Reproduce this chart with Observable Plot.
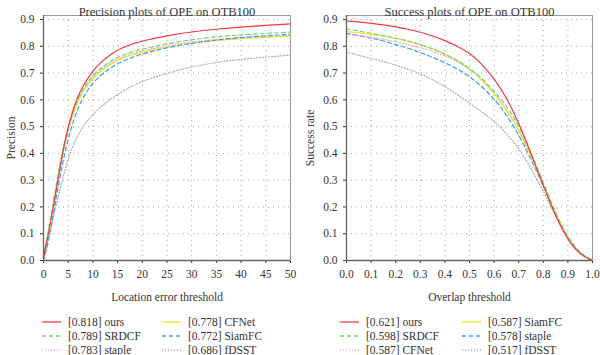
<!DOCTYPE html>
<html><head><meta charset="utf-8">
<script src="https://cdn.jsdelivr.net/npm/d3@7"></script>
<script src="https://cdn.jsdelivr.net/npm/@observablehq/plot@0.6"></script>
<style>
body{margin:0;background:#fff;font-family:"Liberation Serif",serif;}
#wrap{position:relative;width:600px;height:355px;overflow:hidden;}
#left{position:absolute;left:0;top:0;}
#right{position:absolute;left:300px;top:0;}
.leg{position:absolute;font-size:11.5px;color:#333;display:flex;align-items:center;white-space:nowrap;height:14px;}
.leg svg{margin-right:7px;}
</style></head><body>
<div id="wrap"><div id="left"></div><div id="right"></div><div id="legend"></div></div>
<script>
// ---- Precision plot data (location error threshold in px) ----
const errThresholds = [0,1,2,3,4,5,6,7,8,9,10,11,12,13,14,15,16,18,20,25,30,35,40,45,50];
const precOurs   = [0.01,0.10,0.20,0.31,0.415,0.50,0.565,0.615,0.652,0.682,0.707,0.728,0.746,0.761,0.774,0.785,0.795,0.809,0.820,0.840,0.854,0.864,0.872,0.878,0.884];
const precSRDCF  = [0.02,0.11,0.22,0.33,0.425,0.50,0.56,0.605,0.64,0.668,0.69,0.708,0.724,0.737,0.748,0.758,0.767,0.780,0.790,0.810,0.825,0.836,0.843,0.848,0.853];
const precStaple = [0.01,0.10,0.20,0.31,0.41,0.49,0.55,0.597,0.633,0.662,0.685,0.703,0.718,0.731,0.742,0.752,0.761,0.773,0.783,0.803,0.817,0.826,0.832,0.836,0.840];
const precCFNet  = [0.01,0.10,0.21,0.32,0.415,0.49,0.55,0.595,0.63,0.658,0.68,0.698,0.713,0.726,0.737,0.747,0.756,0.769,0.778,0.798,0.812,0.822,0.829,0.834,0.837];
const precSiamFC = [0.00,0.07,0.17,0.28,0.375,0.455,0.52,0.57,0.608,0.638,0.662,0.682,0.698,0.712,0.724,0.735,0.744,0.759,0.772,0.795,0.812,0.824,0.833,0.839,0.845];
const precFDSST  = [0.01,0.08,0.16,0.24,0.315,0.38,0.43,0.47,0.50,0.525,0.545,0.563,0.58,0.595,0.608,0.62,0.632,0.652,0.67,0.70,0.724,0.74,0.752,0.76,0.767];

// ---- Success plot data (overlap threshold) ----
const overlapThresholds = [0,0.05,0.1,0.15,0.2,0.25,0.3,0.35,0.4,0.45,0.5,0.55,0.6,0.65,0.7,0.75,0.8,0.85,0.9,0.95,1.0];
const succOurs   = [0.895,0.891,0.886,0.880,0.873,0.864,0.853,0.839,0.822,0.801,0.775,0.735,0.680,0.610,0.515,0.400,0.280,0.165,0.075,0.020,0.0];
const succSRDCF  = [0.865,0.857,0.849,0.840,0.831,0.820,0.806,0.790,0.771,0.749,0.718,0.682,0.632,0.580,0.505,0.405,0.290,0.178,0.085,0.027,0.0];
const succCFNet  = [0.845,0.840,0.834,0.826,0.817,0.807,0.795,0.781,0.764,0.743,0.714,0.676,0.626,0.566,0.492,0.395,0.285,0.172,0.082,0.025,0.0];
const succSiamFC = [0.855,0.850,0.845,0.838,0.830,0.820,0.807,0.791,0.772,0.749,0.716,0.676,0.625,0.563,0.488,0.390,0.280,0.168,0.077,0.022,0.0];
const succStaple = [0.848,0.840,0.831,0.820,0.807,0.793,0.777,0.759,0.739,0.716,0.688,0.650,0.604,0.545,0.470,0.380,0.278,0.170,0.080,0.025,0.0];
const succFDSST  = [0.778,0.766,0.755,0.743,0.730,0.715,0.698,0.676,0.650,0.620,0.588,0.556,0.520,0.476,0.420,0.345,0.260,0.165,0.080,0.025,0.0];

// ---- Legends (scores) ----
const precLegendNames  = ["ours","SRDCF","staple","CFNet","SiamFC","fDSST"];
const precLegendScores = ["0.818","0.789","0.783","0.778","0.772","0.686"];
const succLegendNames  = ["ours","SRDCF","CFNet","SiamFC","staple","fDSST"];
const succLegendScores = ["0.621","0.598","0.587","0.587","0.578","0.517"];

const yTicks = [0,0.1,0.2,0.3,0.4,0.5,0.6,0.7,0.8,0.9];
const errTicks = [0,5,10,15,20,25,30,35,40,45,50];
const overlapTicks = [0,0.1,0.2,0.3,0.4,0.5,0.6,0.7,0.8,0.9,1.0];

// styles (kept separate from data)
const RED={stroke:"#ec3b42",dash:null}, GREEN={stroke:"#72d872",dash:"4,3"}, PINK={stroke:"#e9a6e3",dash:"1,2"},
      YELLOW={stroke:"#ebe233",dash:null}, BLUE={stroke:"#3a9fe6",dash:"4,3"}, GRAY={stroke:"#a8a8a8",dash:"1,2"};
const precStyle = {ours:RED, SRDCF:GREEN, staple:PINK, CFNet:YELLOW, SiamFC:BLUE, fDSST:GRAY};
const succStyle = {ours:RED, SRDCF:GREEN, CFNet:PINK, SiamFC:YELLOW, staple:BLUE, fDSST:GRAY};

function table(xs, seriesMap){
  const rows=[];
  for(const [name, vals] of Object.entries(seriesMap)) xs.forEach((x,i)=>rows.push({method:name,x,y:vals[i]}));
  return rows;
}

function chart(o){
  const rows = table(o.xs, o.series);
  const order = ["fDSST","staple","CFNet","SiamFC","SRDCF","ours"];
  const lineMarks = order.map(m=>Plot.line(rows.filter(r=>r.method===m),{
    x:"x", y:"y", stroke:o.style[m].stroke, strokeDasharray:o.style[m].dash || undefined,
    strokeWidth:1.2, curve:"basis"}));
  return Plot.plot({
    width:300, height:305,
    marginLeft:o.ml, marginRight:o.mr, marginTop:15, marginBottom:45,
    style:{fontFamily:"'Liberation Serif', serif", fontSize:"11.5px", color:"#333", background:"white"},
    x:{domain:o.xDomain, ticks:o.xTicks, tickFormat:o.xFormat, tickSize:3, label:o.xLabel, labelAnchor:"center", labelArrow:"none", labelOffset:40},
    y:{domain:[0,0.915], ticks:yTicks, tickFormat:".1f", tickSize:3, label:o.yLabel, labelAnchor:"center", labelArrow:"none", labelOffset:o.ylo},
    marks:[
      Plot.gridX(o.xTicks,{stroke:"#999", strokeOpacity:0.9, strokeDasharray:"1,4"}),
      Plot.gridY(yTicks,{stroke:"#999", strokeOpacity:0.9, strokeDasharray:"1,4"}),
      Plot.frame({stroke:"#999"}),
      ...lineMarks,
      Plot.ruleX([o.xDomain[0]],{stroke:"#666", strokeWidth:1.3}),
      Plot.ruleY([0],{stroke:"#666", strokeWidth:1.3}),
      Plot.text([o.title],{frameAnchor:"top", dy:-8, text:d=>d, fontSize:12.5, fill:"#333"})
    ]
  });
}

document.getElementById("left").append(chart({
  xs:errThresholds,
  series:{ours:precOurs,SRDCF:precSRDCF,staple:precStaple,CFNet:precCFNet,SiamFC:precSiamFC,fDSST:precFDSST},
  style:precStyle, xDomain:[0,50], xTicks:errTicks, xFormat:d=>String(d),
  xLabel:"Location error threshold", yLabel:"Precision", title:"Precision plots of OPE on OTB100",
  ml:43, mr:10, ylo:37
}));
document.getElementById("right").append(chart({
  xs:overlapThresholds,
  series:{ours:succOurs,SRDCF:succSRDCF,CFNet:succCFNet,SiamFC:succSiamFC,staple:succStaple,fDSST:succFDSST},
  style:succStyle, xDomain:[0,1], xTicks:overlapTicks, xFormat:".1f",
  xLabel:"Overlap threshold", yLabel:"Success rate", title:"Success plots of OPE on OTB100",
  ml:46, mr:8, ylo:41
}));

// legends
function addLegend(names, scores, styles, x0, x1){
  const leg = document.getElementById("legend");
  const rowsY=[315,329,343];
  names.forEach((n,i)=>{
    const col = i<3?0:1, row=i%3;
    const st=styles[n];
    const d=document.createElement("div");
    d.className="leg";
    d.style.left=(col===0?x0:x1)+"px";
    d.style.top=rowsY[row]+"px";
    d.innerHTML=`<svg width="19" height="6"><line x1="0" y1="3" x2="19" y2="3" stroke="${st.stroke}" stroke-width="1.3" ${st.dash?`stroke-dasharray="${st.dash}"`:""}/></svg><span>[${scores[i]}] ${n}</span>`;
    leg.append(d);
  });
}
addLegend(precLegendNames, precLegendScores, precStyle, 42, 162);
addLegend(succLegendNames, succLegendScores, succStyle, 340, 462);
</script>
</body></html>
